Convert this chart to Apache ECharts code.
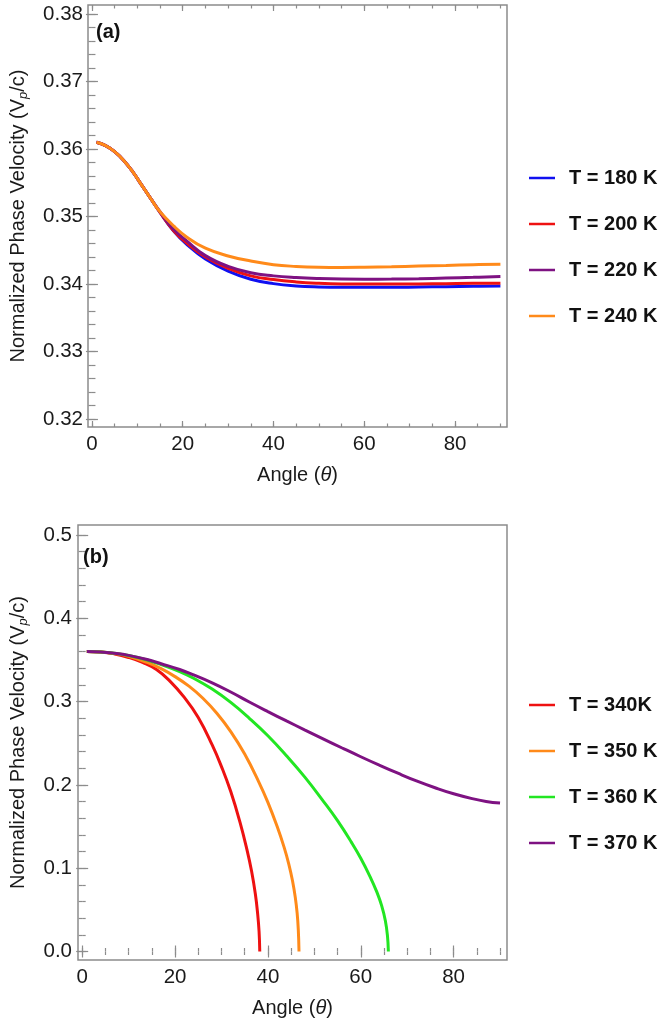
<!DOCTYPE html>
<html>
<head>
<meta charset="utf-8">
<script src="https://cdn.jsdelivr.net/npm/echarts@6/dist/echarts.min.js"></script>
<style>
  html, body { margin: 0; padding: 0; background: #ffffff; }
  #chart { width: 664px; height: 1025px; }
</style>
</head>
<body>
<div id="chart"></div>
<script>
// ---- Panel (a): phase velocity vs angle, low temperatures ----
const angleA = [1, 3, 5, 7, 9, 11, 13, 15, 18, 21, 25, 30, 35, 40, 45, 50, 55, 60, 66, 72, 78, 84, 90];
const v180 = [0.3610, 0.3605, 0.3596, 0.3583, 0.3566, 0.3546, 0.3526, 0.3506, 0.34785, 0.3458, 0.3437, 0.3419, 0.3407, 0.34005, 0.3397, 0.33955, 0.3395, 0.3395, 0.3395, 0.33955, 0.3396, 0.33965, 0.3397];
const v200 = [0.3610, 0.3605, 0.3596, 0.3583, 0.3566, 0.3546, 0.3526, 0.3506, 0.3479, 0.3460, 0.3440, 0.3423, 0.3412, 0.34065, 0.3403, 0.3401, 0.3400, 0.33998, 0.33998, 0.3400, 0.34005, 0.3401, 0.3401];
const v220 = [0.3610, 0.3605, 0.3596, 0.3583, 0.3566, 0.3546, 0.3526, 0.3507, 0.3481, 0.3463, 0.3442, 0.3426, 0.34165, 0.3412, 0.34095, 0.3408, 0.34072, 0.34070, 0.34072, 0.34078, 0.34088, 0.34098, 0.3411];
const v240 = [0.3610, 0.3605, 0.3596, 0.3583, 0.3566, 0.3546, 0.3526, 0.3507, 0.3486, 0.3469, 0.3453, 0.34415, 0.3434, 0.34285, 0.3426, 0.34248, 0.34245, 0.34248, 0.34255, 0.34265, 0.34275, 0.34285, 0.34293];
const namesA = ['T = 180 K', 'T = 200 K', 'T = 220 K', 'T = 240 K'];

// ---- Panel (b): phase velocity vs angle, high temperatures ----
const angle340 = [1, 4, 7, 10, 13, 16, 19, 22, 25, 28, 30, 32, 34, 35.5, 36.5, 37.3, 37.8, 38.1, 38.25];
const v340 = [0.3600, 0.3595, 0.3572, 0.3530, 0.3470, 0.3385, 0.3240, 0.3050, 0.2810, 0.2480, 0.2220, 0.1920, 0.1550, 0.1220, 0.0960, 0.0690, 0.0450, 0.0240, 0.0];
const angle350 = [1, 4, 7, 10, 14, 17, 20, 23, 26, 29, 32, 35, 38, 40, 42, 43.5, 44.5, 45.3, 45.9, 46.3, 46.55, 46.7];
const v350 = [0.3600, 0.3596, 0.3578, 0.3545, 0.3470, 0.3395, 0.3300, 0.3185, 0.3040, 0.2860, 0.2640, 0.2370, 0.2040, 0.1790, 0.1500, 0.1250, 0.1050, 0.0850, 0.0650, 0.0460, 0.0260, 0.0];
const angle360 = [1, 4, 7, 10, 14, 17, 21, 24, 28, 32, 36, 40, 44, 48, 52, 55, 58, 60, 62, 63.5, 64.5, 65.3, 65.75, 65.95];
const v360 = [0.3600, 0.3596, 0.3580, 0.3553, 0.3500, 0.3445, 0.3360, 0.3280, 0.3150, 0.2990, 0.2800, 0.2590, 0.2350, 0.2090, 0.1800, 0.1570, 0.1310, 0.1120, 0.0900, 0.0710, 0.0550, 0.0370, 0.0190, 0.0];
const angle370 = [1, 4, 7, 10, 14, 17, 21, 24, 28, 32, 36, 40, 44, 48, 52, 56, 60, 64, 68, 72, 76, 80, 84, 87, 90];
const v370 = [0.3600, 0.3596, 0.3580, 0.3555, 0.3505, 0.3455, 0.3385, 0.3320, 0.3225, 0.3115, 0.2995, 0.2880, 0.2768, 0.2658, 0.2550, 0.2443, 0.2338, 0.2237, 0.2140, 0.2048, 0.1966, 0.1893, 0.1835, 0.1802, 0.1782];
const namesB = ['T = 340K', 'T = 350 K', 'T = 360 K', 'T = 370 K'];

// ---- Tick labels ----
const ticksX = [0, 20, 40, 60, 80];
const ticksYA = [0.32, 0.33, 0.34, 0.35, 0.36, 0.37, 0.38];
const ticksYB = [0.0, 0.1, 0.2, 0.3, 0.4, 0.5];

const FONT = '"Liberation Sans", Arial, sans-serif';
const FRAME = '#8c8c8c';
const TEXT = '#1a1a1a';

function steps(a, b, step) {
  const out = [];
  for (let k = 0; a + k * step <= b + 1e-9; k++) out.push(+(a + k * step).toFixed(4));
  return out;
}
const minorX = steps(0, 90, 5);
const minorYA = steps(0.32, 0.38, 0.002);
const minorYB = steps(0.0, 0.5, 0.02);

function pairs(xs, ys) { return xs.map((x, i) => [x, ys[i]]); }

// one frame side: a major tick axis (optionally labelled) and a minor tick axis
function xAxes(grid, pos, min, max, labelled, nameGap) {
  const base = {
    type: 'value', gridIndex: grid, position: pos, min: min, max: max,
    axisLine: { show: false }, splitLine: { show: false }
  };
  const major = Object.assign({}, base, {
    axisTick: { inside: true, length: 6, customValues: ticksX, lineStyle: { color: FRAME, width: 1.2 } },
    axisLabel: labelled
      ? { customValues: ticksX, margin: 7, fontSize: 20.5, color: TEXT, fontFamily: FONT }
      : { show: false }
  });
  if (labelled) {
    Object.assign(major, {
      name: '{n|Angle (}{i|θ}{n|)}',
      nameLocation: 'middle',
      nameGap: nameGap,
      nameTextStyle: {
        rich: {
          n: { fontSize: 20, color: TEXT, fontFamily: FONT },
          i: { fontSize: 20, color: TEXT, fontFamily: FONT, fontStyle: 'italic' }
        }
      }
    });
  }
  const minor = Object.assign({}, base, {
    axisTick: { inside: true, length: 3.5, customValues: minorX, lineStyle: { color: FRAME, width: 1.2 } },
    axisLabel: { show: false }
  });
  return [major, minor];
}

function yAxes(grid, pos, min, max, ticks, minorTicks, digits, labelled, margin, nameGap) {
  const base = {
    type: 'value', gridIndex: grid, position: pos, min: min, max: max,
    axisLine: { show: false }, splitLine: { show: false }
  };
  const major = Object.assign({}, base, {
    axisTick: { inside: true, length: 6, customValues: ticks, lineStyle: { color: FRAME, width: 1.2 } },
    axisLabel: labelled
      ? { customValues: ticks, margin: margin, fontSize: 20.5, color: TEXT, fontFamily: FONT,
          formatter: v => Number(v).toFixed(digits) }
      : { show: false }
  });
  if (labelled) {
    Object.assign(major, {
      name: '{n|Normalized Phase Velocity (V}{s|p}{n|/c)}',
      nameLocation: 'middle',
      nameRotate: 90,
      nameGap: nameGap,
      nameTextStyle: {
        rich: {
          n: { fontSize: 20, color: TEXT, fontFamily: FONT, lineHeight: 24, verticalAlign: 'middle' },
          s: { fontSize: 13, color: TEXT, fontFamily: FONT, fontStyle: 'italic', lineHeight: 24, verticalAlign: 'bottom' }
        }
      }
    });
  }
  const minor = Object.assign({}, base, {
    axisTick: { inside: true, length: 3.5, customValues: minorTicks, lineStyle: { color: FRAME, width: 1.2 } },
    axisLabel: { show: false }
  });
  return [major, minor];
}

const xMinA = -0.87, xMaxA = 91.45, yMinA = 0.31881, yMaxA = 0.38133;
const xMinB = -0.9, xMaxB = 91.5, yMinB = -0.0102, yMaxB = 0.512;

const xAxis = [].concat(
  xAxes(0, 'bottom', xMinA, xMaxA, true, 38),
  xAxes(0, 'top', xMinA, xMaxA, false),
  xAxes(1, 'bottom', xMinB, xMaxB, true, 38),
  xAxes(1, 'top', xMinB, xMaxB, false)
);
const yAxis = [].concat(
  yAxes(0, 'left', yMinA, yMaxA, ticksYA, minorYA, 2, true, 5, 58),
  yAxes(0, 'right', yMinA, yMaxA, ticksYA, minorYA, 2, false),
  yAxes(1, 'left', yMinB, yMaxB, ticksYB, minorYB, 1, true, 6, 48),
  yAxes(1, 'right', yMinB, yMaxB, ticksYB, minorYB, 1, false)
);

function line(name, data, color, axisIdx) {
  return {
    type: 'line', name: name, data: data,
    xAxisIndex: axisIdx, yAxisIndex: axisIdx,
    showSymbol: false, symbol: 'none',
    smooth: 0.45,
    lineStyle: { color: color, width: 3 },
    itemStyle: { color: color },
    clip: true
  };
}

const colorsA = ['#1010f0', '#ee1111', '#7e1282', '#ff8a1a'];
const colorsB = ['#ee1111', '#ff8a1a', '#22e622', '#7e1282'];

const series = [
  line(namesA[0], pairs(angleA, v180), colorsA[0], 0),
  line(namesA[1], pairs(angleA, v200), colorsA[1], 0),
  line(namesA[2], pairs(angleA, v220), colorsA[2], 0),
  line(namesA[3], pairs(angleA, v240), colorsA[3], 0),
  line(namesB[0], pairs(angle340, v340), colorsB[0], 4),
  line(namesB[1], pairs(angle350, v350), colorsB[1], 4),
  line(namesB[2], pairs(angle360, v360), colorsB[2], 4),
  line(namesB[3], pairs(angle370, v370), colorsB[3], 4)
];

function legend(names, top) {
  return {
    data: names, orient: 'vertical', left: 529, top: top,
    icon: 'rect', itemWidth: 26, itemHeight: 2.5, itemGap: 26, padding: 0,
    selectedMode: false,
    textStyle: { fontSize: 20, lineHeight: 20, fontWeight: 'bold', color: '#111', fontFamily: FONT, padding: [0, 0, 0, 9] }
  };
}

const chart = echarts.init(document.getElementById('chart'), null, { renderer: 'canvas' });
chart.setOption({
  animation: false,
  backgroundColor: '#ffffff',
  title: [
    { text: '(a)', left: 96, top: 22, padding: 0,
      textStyle: { fontSize: 20, fontWeight: 'bold', color: '#111', fontFamily: FONT } },
    { text: '(b)', left: 83, top: 547, padding: 0,
      textStyle: { fontSize: 20, fontWeight: 'bold', color: '#111', fontFamily: FONT } }
  ],
  legend: [legend(namesA, 168), legend(namesB, 695)],
  grid: [
    { left: 85, top: 5, width: 422, height: 422, show: true, borderColor: FRAME, borderWidth: 1.5, containLabel: false },
    { left: 74, top: 525, width: 433, height: 435, show: true, borderColor: FRAME, borderWidth: 1.5, containLabel: false }
  ],
  xAxis: xAxis,
  yAxis: yAxis,
  series: series
});
</script>
</body>
</html>
